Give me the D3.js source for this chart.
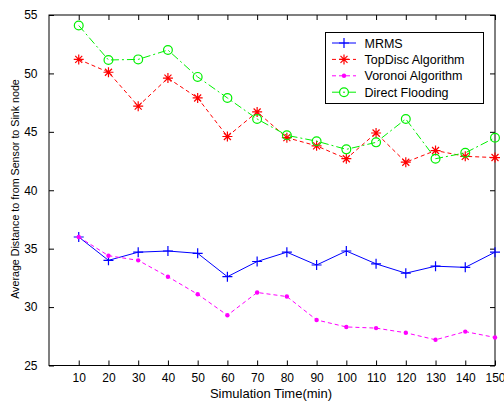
<!DOCTYPE html>
<html><head><meta charset="utf-8">
<script src="https://cdn.jsdelivr.net/npm/d3@7"></script>
<style>body{margin:0;background:#fff;} text{font-family:"Liberation Sans",Arial,sans-serif;}</style>
</head><body><svg id="c" width="504" height="405"></svg>
<script>
const xValues = [10,20,30,40,50,60,70,80,90,100,110,120,130,140,150];
const mrms = [36.0,34.0,34.7,34.8,34.6,32.6,33.9,34.7,33.6,34.8,33.7,32.9,33.5,33.4,34.7];
const topDisc = [51.2,50.1,47.2,49.6,47.9,44.6,46.7,44.5,43.8,42.7,44.9,42.4,43.4,42.9,42.8];
const voronoi = [36.0,34.4,34.0,32.6,31.1,29.3,31.25,30.9,28.9,28.3,28.2,27.8,27.2,27.9,27.4];
const flooding = [54.1,51.15,51.2,52.0,49.7,47.9,46.1,44.7,44.2,43.5,44.1,46.1,42.7,43.2,44.5];
const yTicks = [25,30,35,40,45,50,55];
const seriesNames = ["MRMS","TopDisc Algorithm","Voronoi Algorithm","Direct Flooding"];

const svg = d3.select("#c");
const L=49, R=495, T=15, B=365.5;
const x = d3.scaleLinear().domain([0,150]).range([L,R]);
const y = d3.scaleLinear().domain([25,55]).range([B,T]);

svg.append("rect").attr("x",L).attr("y",T).attr("width",R-L).attr("height",B-T)
  .attr("fill","#fff").attr("stroke","#000").attr("stroke-width",1);

const fs = 12;
const gx = svg.append("g").attr("transform",`translate(0,${B})`)
  .call(d3.axisBottom(x).tickValues(xValues).tickSize(-5).tickPadding(8));
const gxt = svg.append("g").attr("transform",`translate(0,${T})`)
  .call(d3.axisTop(x).tickValues(xValues).tickSize(-5).tickFormat(""));
const gy = svg.append("g").attr("transform",`translate(${L},0)`)
  .call(d3.axisLeft(y).tickValues(yTicks).tickSize(-5).tickPadding(11.5));
const gyr = svg.append("g").attr("transform",`translate(${R},0)`)
  .call(d3.axisRight(y).tickValues(yTicks).tickSize(-5).tickFormat(""));
[gx,gxt,gy,gyr].forEach(g=>{
  g.select(".domain").remove();
  g.selectAll("line").attr("stroke","#000");
  g.selectAll("text").attr("font-size",fs).attr("fill","#000").attr("font-family","Liberation Sans, Arial, sans-serif");
});

svg.append("text").attr("x",271).attr("y",398).attr("text-anchor","middle")
  .attr("font-size",13).text("Simulation Time(min)");
svg.append("text").attr("transform",`translate(19,189) rotate(-90)`).attr("text-anchor","middle")
  .attr("font-size",10.7).text("Average Distance to from Sensor to Sink node");

const series = [
  {name:seriesNames[0], data:mrms, color:"#0000ff", dash:null, marker:"plus"},
  {name:seriesNames[1], data:topDisc, color:"#ff0000", dash:"4,3", marker:"star"},
  {name:seriesNames[2], data:voronoi, color:"#ff00ff", dash:"4,3", marker:"dot"},
  {name:seriesNames[3], data:flooding, color:"#00f000", dash:"8,3,2,3", marker:"circle"}
];

function drawMarker(g, type, cx, cy, color){
  if(type==="plus"){
    g.append("path").attr("d",`M${cx-5},${cy}H${cx+5}M${cx},${cy-5}V${cy+5}`).attr("stroke",color).attr("stroke-width",1.2).attr("fill","none");
  } else if(type==="star"){
    g.append("path").attr("d",`M${cx-5},${cy}H${cx+5}M${cx},${cy-5}V${cy+5}M${cx-3.5},${cy-3.5}L${cx+3.5},${cy+3.5}M${cx-3.5},${cy+3.5}L${cx+3.5},${cy-3.5}`).attr("stroke",color).attr("stroke-width",1.2).attr("fill","none");
  } else if(type==="dot"){
    g.append("circle").attr("cx",cx).attr("cy",cy).attr("r",2.2).attr("fill",color);
  } else if(type==="circle"){
    g.append("circle").attr("cx",cx).attr("cy",cy).attr("r",4.4).attr("fill","none").attr("stroke",color).attr("stroke-width",1.2);
  }
}

const line = d3.line().x((d,i)=>x(xValues[i])).y(d=>y(d));
series.forEach(s=>{
  const g = svg.append("g");
  g.append("path").datum(s.data).attr("d",line).attr("fill","none")
    .attr("stroke",s.color).attr("stroke-width",1).attr("stroke-dasharray",s.dash);
  s.data.forEach((v,i)=>drawMarker(g,s.marker,x(xValues[i]),y(v),s.color));
});

const lg = svg.append("g");
lg.append("rect").attr("x",325.5).attr("y",32.5).attr("width",158).attr("height",71)
  .attr("fill","#fff").attr("stroke","#000");
series.forEach((s,i)=>{
  const yy = 43 + i*16.4;
  lg.append("line").attr("x1",332).attr("x2",356).attr("y1",yy).attr("y2",yy)
    .attr("stroke",s.color).attr("stroke-dasharray",s.dash);
  drawMarker(lg,s.marker,344,yy,s.color);
  lg.append("text").attr("x",364.5).attr("y",yy).attr("dy","0.36em").attr("font-size",12.5).text(s.name);
});
</script></body></html>
